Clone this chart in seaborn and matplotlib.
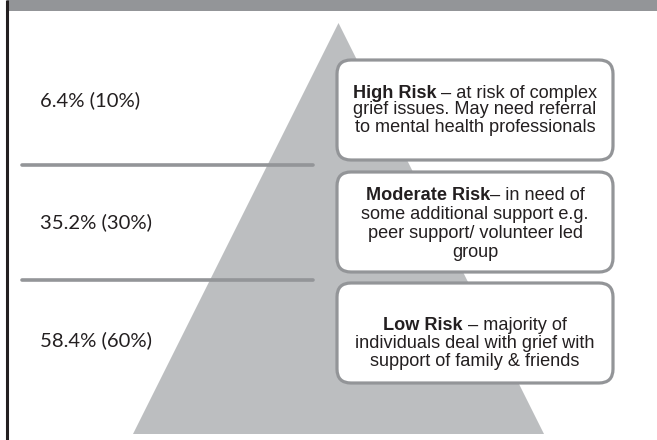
import matplotlib
matplotlib.use("Agg")
import matplotlib.pyplot as plt
from matplotlib.patches import FancyBboxPatch, Rectangle
import seaborn as sns
import pandas as pd

# ---- data ----
levels = ["High Risk", "Moderate Risk", "Low Risk"]
shares = ["6.4% (10%)", "35.2% (30%)", "58.4% (60%)"]
heads = ["High Risk", "Moderate Risk", "Low Risk"]
head_tails = [" \u2013 at risk of complex", "\u2013 in need of", " \u2013 majority of"]
desc_lines = [
    ["grief issues. May need referral", "to mental health professionals"],
    ["some additional support e.g.", "peer support/ volunteer led", "group"],
    ["individuals deal with grief with", "support of family & friends"],
]

# ---- layout (pixel space) ----
W, H = 657, 440
apex = (338.5, 23)
base_y, base_half = 434, 205.5
sep_y = [165, 280]
share_y = [100, 222, 340]
box_top = [60, 172, 283]
box_bot = [160, 272, 383]
box_x0, box_x1 = 337, 613
text_cy = [108, 222, 342]
line_gap = [17.0, 19.0, 18.0]

sns.set_theme(style="white")
plt.rcParams["font.family"] = ["Liberation Sans", "DejaVu Sans"]

fig = plt.figure(figsize=(W / 100, H / 100), dpi=100)
ax = fig.add_axes([0, 0, 1, 1])

GRAY_BAND = "#939598"
TRI = "#bcbec0"
DARK = "#231f20"

# separators
sep_df = pd.DataFrame({"x": [22, 313, 22, 313], "y": [sep_y[0], sep_y[0], sep_y[1], sep_y[1]],
                       "g": ["a", "a", "b", "b"]})
sns.lineplot(data=sep_df, x="x", y="y", units="g", estimator=None, color=GRAY_BAND,
             lw=2.6, ax=ax, zorder=2, sort=False)
ax.set_xlim(0, W)
ax.set_ylim(H, 0)
ax.axis("off")

# top band and left border
ax.add_patch(Rectangle((7, 0), W - 7, 11, color=GRAY_BAND, lw=0))
ax.plot([7, 7], [0, H], color=DARK, lw=2.2, solid_capstyle="butt")

# pyramid
ax.fill([apex[0] - base_half, apex[0], apex[0] + base_half],
        [base_y, apex[1], base_y], color=TRI, lw=0, zorder=1)

# share labels
for s, y in zip(shares, share_y):
    ax.text(40, y, s, fontsize=14.6, family=["Lato", "DejaVu Sans"], color=DARK,
            ha="left", va="center", zorder=3)

# boxes
for i in range(3):
    bx = FancyBboxPatch((box_x0, box_top[i]), box_x1 - box_x0, box_bot[i] - box_top[i],
                        boxstyle="round,pad=0,rounding_size=14", fc="white",
                        ec=GRAY_BAND, lw=2.3, zorder=4)
    ax.add_patch(bx)

fig.canvas.draw()
r = fig.canvas.get_renderer()
cx = (box_x0 + box_x1) / 2
FS = 13.1
for i in range(3):
    n = 1 + len(desc_lines[i])
    y0 = text_cy[i] - (n - 1) * line_gap[i] / 2
    tb = ax.text(0, y0, heads[i], fontsize=FS, fontweight="bold", color=DARK,
                 ha="left", va="center_baseline", zorder=5)
    tt = ax.text(0, y0, head_tails[i], fontsize=FS, color=DARK,
                 ha="left", va="center_baseline", zorder=5)
    wb = tb.get_window_extent(r).width
    wt = tt.get_window_extent(r).width
    left = cx - (wb + wt) / 2
    tb.set_x(left)
    tt.set_x(left + wb)
    for j, line in enumerate(desc_lines[i]):
        ax.text(cx, y0 + (j + 1) * line_gap[i], line, fontsize=FS, color=DARK,
                ha="center", va="center_baseline", zorder=5)

fig.savefig("out.png", dpi=100)
